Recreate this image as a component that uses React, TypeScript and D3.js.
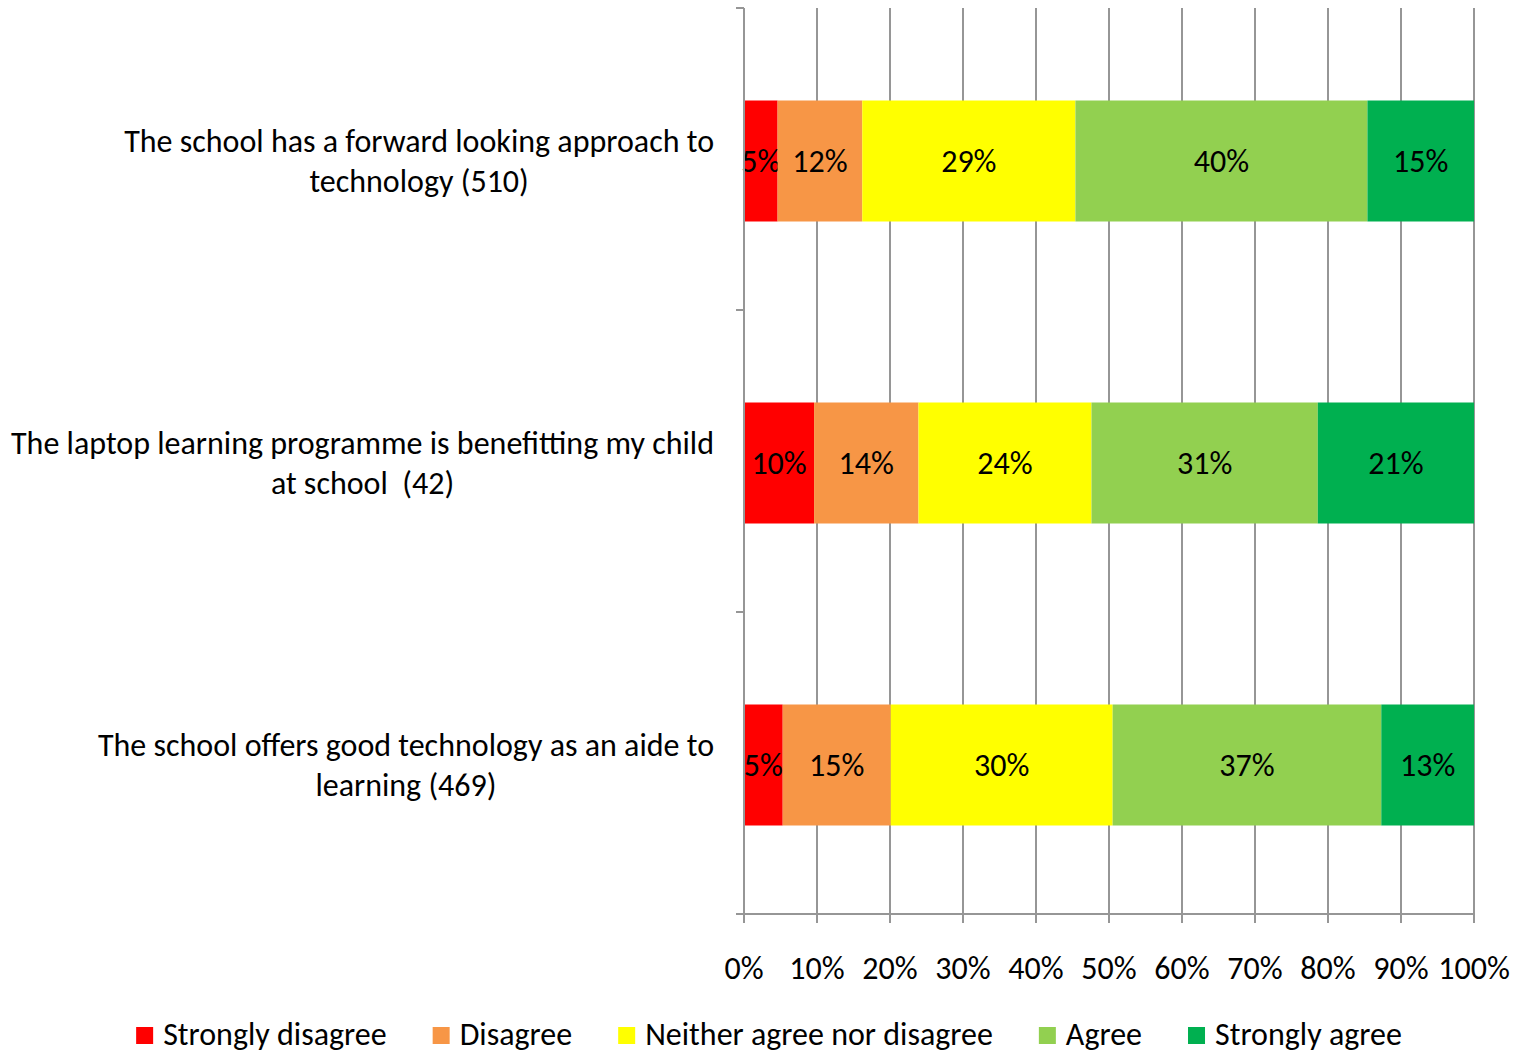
import { useEffect, useRef } from 'react'
import * as d3 from 'd3'

const categories = [
  ['The school has a forward looking approach to', 'technology (510)'],
  ['The laptop learning programme is benefitting my child', 'at school  (42)'],
  ['The school offers good technology as an aide to', 'learning (469)'],
]
const seriesNames = ['Strongly disagree', 'Disagree', 'Neither agree nor disagree', 'Agree', 'Strongly agree']
const seriesColors = ['#ff0000', '#f79646', '#ffff00', '#92d050', '#00b050']
const stronglyDisagree = [4.6, 9.6, 5.3]
const disagree = [11.6, 14.3, 14.8]
const neither = [29.2, 23.7, 30.4]
const agree = [40.0, 31.0, 36.8]
const stronglyAgree = [14.6, 21.4, 12.7]
const xTicks = [0, 10, 20, 30, 40, 50, 60, 70, 80, 90, 100]

const FONT = 'Carlito, Lato, "Open Sans", sans-serif'
const FS = 32

export default function App() {
  const ref = useRef<SVGSVGElement>(null)

  useEffect(() => {
    const svg = d3.select(ref.current)
    svg.selectAll('*').remove()

    const left = 744, right = 1474, top = 8, bottom = 914
    const x = d3.scaleLinear().domain([0, 100]).range([left, right])
    const y = d3.scaleBand<number>().domain([0, 1, 2]).range([top, bottom]).paddingInner(0).paddingOuter(0)
    const barH = 121
    const mid = (i: number) => y(i)! + y.bandwidth() / 2 + 2

    const values = [stronglyDisagree, disagree, neither, agree, stronglyAgree]
    const rows = categories.map((_, i) => {
      const r: any = { i }
      values.forEach((v, k) => (r['s' + k] = v[i]))
      return r
    })
    const stack = d3.stack<any>().keys(values.map((_, k) => 's' + k))(rows)

    // gridlines
    svg.append('g')
      .selectAll('line')
      .data(xTicks.slice(1))
      .enter().append('line')
      .attr('x1', d => x(d)).attr('x2', d => x(d))
      .attr('y1', top).attr('y2', bottom)
      .attr('stroke', '#969696').attr('stroke-width', 2)

    // bars
    stack.forEach((s, k) => {
      const g = svg.append('g').attr('fill', seriesColors[k])
      g.selectAll('rect')
        .data(s)
        .enter().append('rect')
        .attr('x', d => x(d[0]))
        .attr('width', d => x(d[1]) - x(d[0]))
        .attr('y', (_, i) => mid(i) - barH / 2)
        .attr('height', barH)
      svg.append('g')
        .selectAll('text')
        .data(s)
        .enter().append('text')
        .attr('x', d => (x(d[0]) + x(d[1])) / 2)
        .attr('y', (_, i) => mid(i))
        .attr('dy', '0.35em')
        .attr('text-anchor', 'middle')
        .attr('font-family', FONT)
        .attr('font-size', FS)
        .attr('fill', '#000')
        .text(d => Math.round(d[1] - d[0]) + '%')
    })

    // axes
    svg.append('line')
      .attr('x1', left).attr('x2', left).attr('y1', top).attr('y2', bottom)
      .attr('stroke', '#969696').attr('stroke-width', 2)
    svg.append('g')
      .selectAll('line')
      .data([top, ...[0, 1, 2].map(i => y(i)! + y.bandwidth())])
      .enter().append('line')
      .attr('x1', left - 8).attr('x2', left).attr('y1', d => d).attr('y2', d => d)
      .attr('stroke', '#969696').attr('stroke-width', 2)
    svg.append('line')
      .attr('x1', left - 8).attr('x2', right).attr('y1', bottom).attr('y2', bottom)
      .attr('stroke', '#969696').attr('stroke-width', 2)
    svg.append('g')
      .selectAll('line')
      .data(xTicks)
      .enter().append('line')
      .attr('x1', d => x(d)).attr('x2', d => x(d))
      .attr('y1', bottom).attr('y2', bottom + 9)
      .attr('stroke', '#969696').attr('stroke-width', 2)
    svg.append('g')
      .selectAll('text')
      .data(xTicks)
      .enter().append('text')
      .attr('x', d => x(d))
      .attr('y', 968)
      .attr('dy', '0.35em')
      .attr('text-anchor', 'middle')
      .attr('font-family', FONT)
      .attr('font-size', FS)
      .text(d => d + '%')

    // category labels
    categories.forEach((lines, i) => {
      const g = svg.append('g')
      const cy = mid(i)
      const texts = lines.map((t, j) =>
        g.append('text')
          .attr('y', cy + (j - (lines.length - 1) / 2) * 40)
          .attr('dy', '0.35em')
          .attr('text-anchor', 'middle')
          .attr('font-family', FONT)
          .attr('font-size', FS)
          .attr('xml:space', 'preserve')
          .text(t))
      const maxW = d3.max(texts, t => (t.node() as SVGTextElement).getComputedTextLength()) || 0
      texts.forEach(t => t.attr('x', 714 - maxW / 2))
    })

    // legend
    const lg = svg.append('g')
    let cx = 0
    seriesNames.forEach((name, k) => {
      lg.append('rect')
        .attr('x', cx).attr('y', 1027).attr('width', 17).attr('height', 17)
        .attr('fill', seriesColors[k])
      const t = lg.append('text')
        .attr('x', cx + 27).attr('y', 1034)
        .attr('dy', '0.35em')
        .attr('font-family', FONT)
        .attr('font-size', FS)
        .text(name)
      cx += 27 + (t.node() as SVGTextElement).getComputedTextLength() + 46
    })
    const total = cx - 46
    lg.attr('transform', `translate(${769 - total / 2},0)`)
  }, [])

  return (
    <svg ref={ref} width={1522} height={1053} style={{ position: 'absolute', left: 0, top: 0, background: '#fff' }} />
  )
}
